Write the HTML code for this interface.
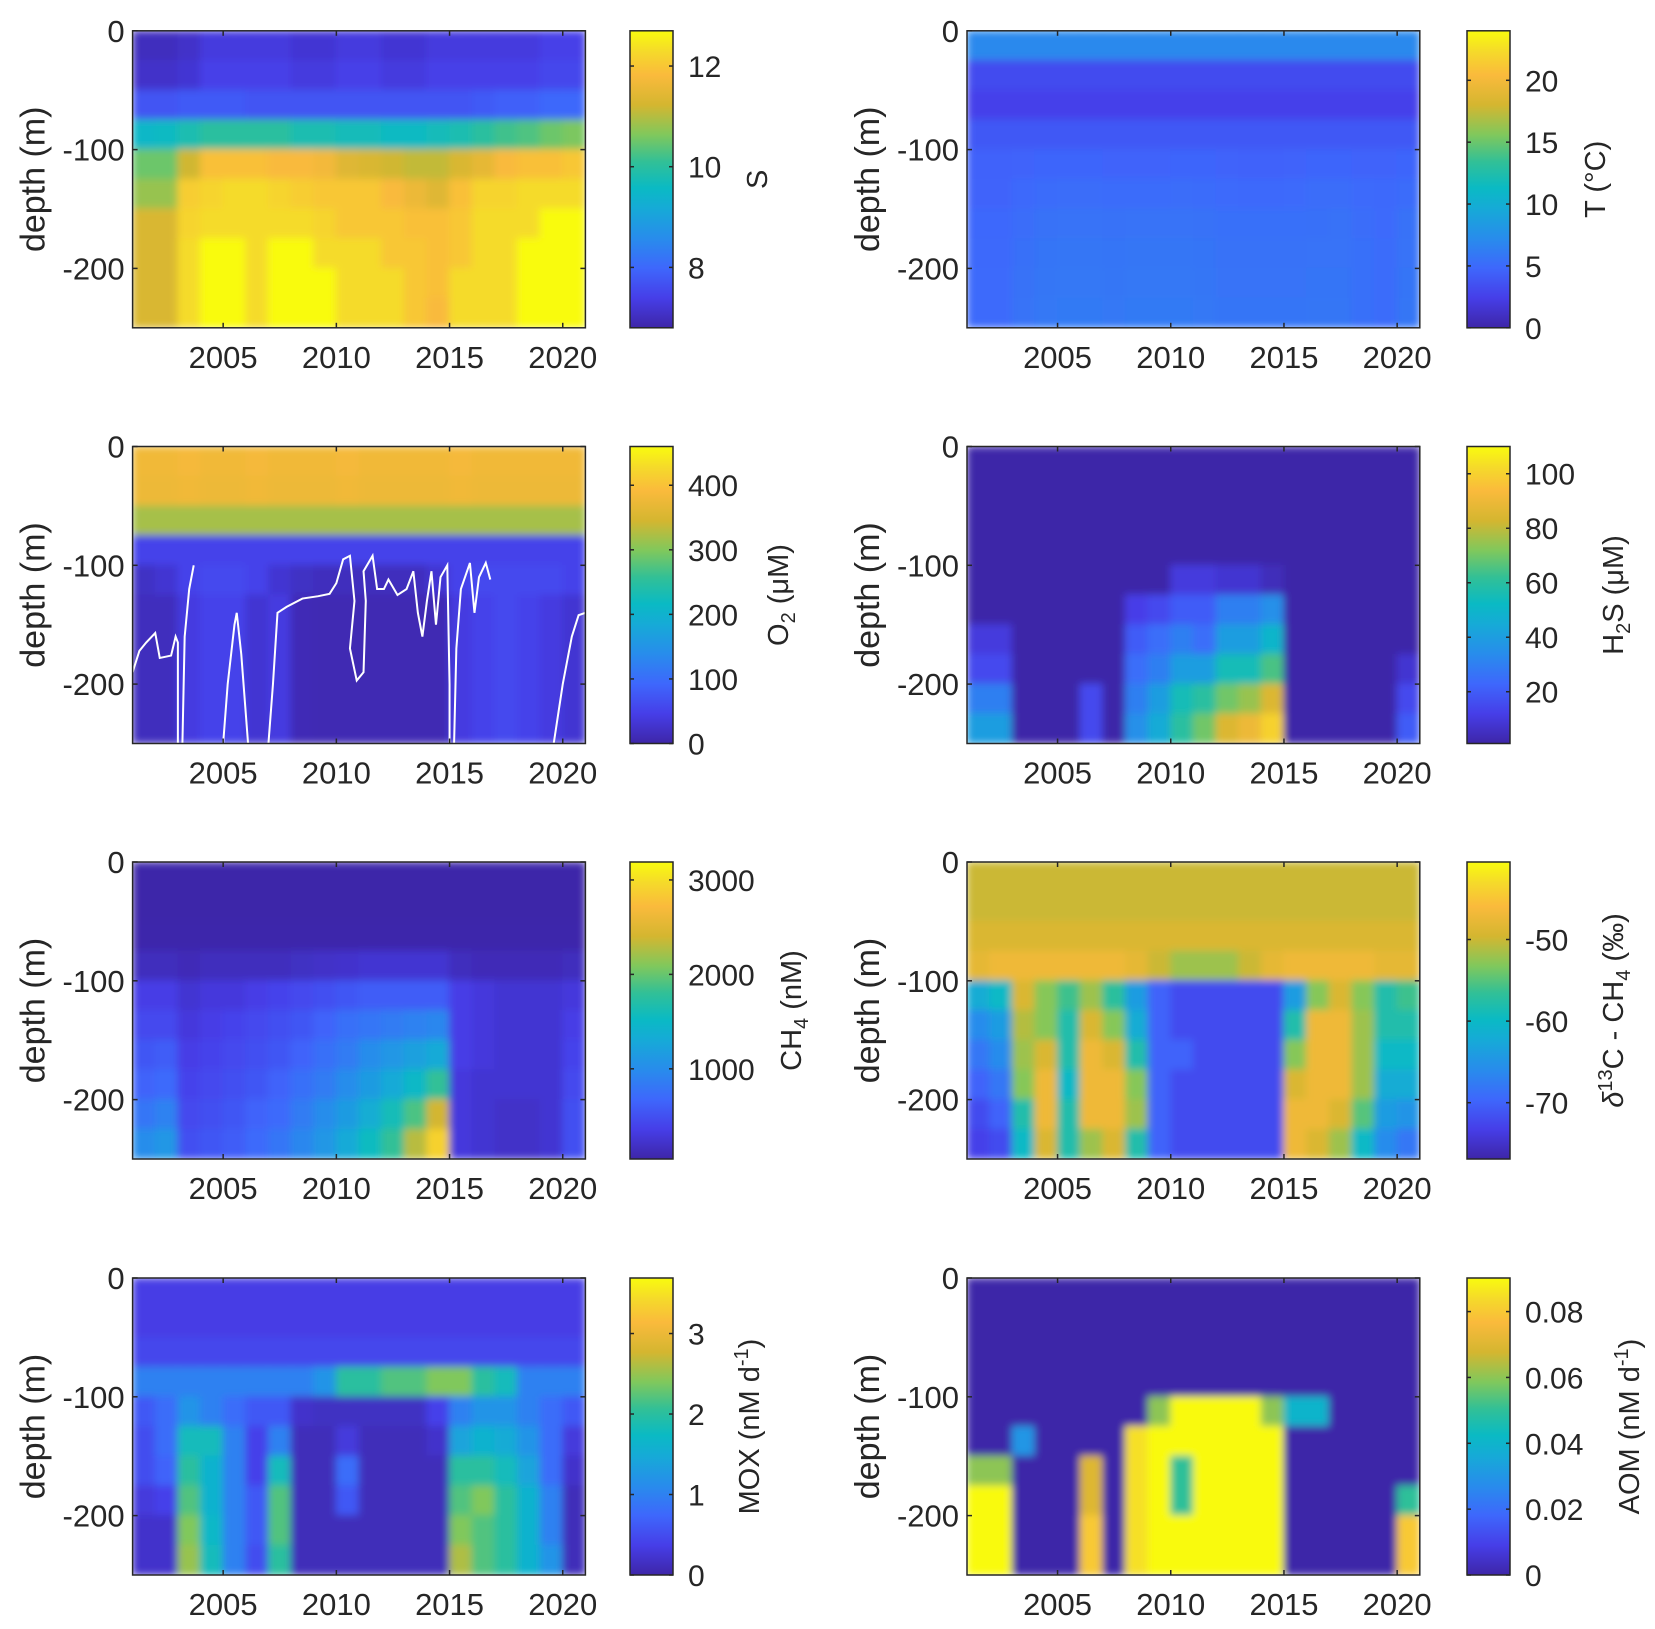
<!DOCTYPE html>
<html><head><meta charset="utf-8">
<style>
html,body{margin:0;padding:0;background:#fff;}
svg{display:block;font-family:"Liberation Sans",Arial,sans-serif;}
</style></head>
<body>
<svg id="fig" width="1655" height="1629" viewBox="0 0 1655 1629" xmlns="http://www.w3.org/2000/svg">
<defs>
<filter id="soft" x="-5%" y="-5%" width="110%" height="110%"><feGaussianBlur stdDeviation="4" edgeMode="duplicate"/></filter>
</defs>
</svg>
<script>
// ---- shared data ----
const yearStarts = [2001,2002,2003,2004,2005,2006,2007,2008,2009,2010,2011,2012,2013,2014,2015,2016,2017,2018,2019,2020];
const depthEdges = [0,-25,-50,-75,-100,-125,-150,-175,-200,-225,-250];
const xTicks = [2005,2010,2015,2020];
const yTicks = [0,-100,-200];

// ---- salinity S ----
const salinity = [
[7.0,7.0,7.1,7.3,7.3,7.3,7.3,7.2,7.2,7.3,7.3,7.2,7.2,7.3,7.3,7.3,7.3,7.3,7.4,7.4],
[7.1,7.1,7.2,7.4,7.4,7.4,7.4,7.3,7.3,7.4,7.4,7.3,7.3,7.4,7.4,7.4,7.4,7.4,7.5,7.5],
[7.7,7.7,7.8,7.8,7.8,7.7,7.7,7.7,7.7,7.7,7.7,7.7,7.7,7.7,7.7,7.8,7.9,7.9,8.0,8.0],
[9.5,9.6,9.8,10.0,10.0,10.0,10.0,9.8,9.8,9.7,9.7,9.6,9.6,9.7,9.8,10.0,10.2,10.3,10.5,10.6],
[10.5,10.5,11.2,11.9,11.9,11.9,11.8,11.8,11.7,11.4,11.3,11.2,11.1,11.1,11.3,11.5,11.8,11.9,11.9,12.0],
[10.8,10.8,12.1,12.2,12.3,12.3,12.2,12.1,12.0,12.0,12.0,11.8,11.6,11.4,11.9,12.2,12.2,12.3,12.3,12.3],
[11.3,11.3,12.2,12.3,12.3,12.3,12.3,12.3,12.2,12.0,12.0,12.0,11.9,11.9,12.0,12.3,12.3,12.3,12.7,12.7],
[11.3,11.3,12.3,12.7,12.7,12.3,12.7,12.7,12.3,12.3,12.3,12.0,12.0,11.9,12.0,12.3,12.3,12.7,12.7,12.7],
[11.3,11.3,12.3,12.7,12.7,12.3,12.7,12.7,12.7,12.3,12.3,12.3,12.0,11.9,12.3,12.3,12.3,12.7,12.7,12.7],
[11.3,11.3,12.3,12.7,12.7,12.3,12.7,12.7,12.7,12.3,12.3,12.3,12.0,11.8,12.3,12.3,12.3,12.7,12.7,12.7]];
const salinityTicks = [8,10,12];

// ---- temperature T ----
const temperature = [
[7,7,7,7,7,7,7,7,7,7,7,7,7,7,7,7,7,7,7,7],
[3.2,3.2,3.2,3.2,3.2,3.2,3.2,3.2,3.2,3.2,3.2,3.2,3.2,3.2,3.2,3.2,3.2,3.2,3.2,3.2],
[2.6,2.6,2.6,2.6,2.6,2.6,2.6,2.6,2.6,2.6,2.6,2.6,2.6,2.6,2.6,2.6,2.6,2.6,2.6,2.6],
[4.0,4.0,4.0,4.0,4.0,4.0,4.0,4.0,4.0,4.0,4.0,4.0,4.0,4.0,4.0,4.0,4.0,4.0,4.0,4.0],
[4.5,4.5,4.6,4.7,4.7,4.7,4.6,4.6,4.6,4.7,4.7,4.6,4.5,4.5,4.6,4.7,4.7,4.6,4.6,4.7],
[4.6,4.6,4.9,5.1,5.2,5.2,5.1,5.1,5.1,5.2,5.1,5.0,4.9,4.9,5.0,5.2,5.2,5.0,4.9,5.1],
[4.8,4.8,5.2,5.5,5.6,5.6,5.5,5.6,5.6,5.6,5.5,5.3,5.3,5.3,5.3,5.4,5.5,5.2,5.0,5.5],
[4.9,4.9,5.4,5.7,5.8,5.8,5.7,5.8,5.8,5.8,5.7,5.5,5.5,5.5,5.5,5.6,5.6,5.3,5.1,5.6],
[5.0,5.0,5.5,5.8,5.9,5.9,5.8,5.9,5.9,5.9,5.8,5.6,5.6,5.6,5.6,5.7,5.7,5.3,5.1,5.7],
[5.0,5.0,5.6,5.9,6.0,6.0,5.9,6.0,6.0,6.0,5.9,5.7,5.7,5.7,5.7,5.8,5.8,5.3,5.1,5.8]];
const temperatureTicks = [0,5,10,15,20];

// ---- oxygen O2 ----
const oxygen = [
[380,380,385,380,380,385,380,380,380,385,380,380,380,380,385,380,380,380,380,380],
[375,375,380,375,375,380,375,375,375,380,375,375,375,375,380,375,375,375,375,375],
[320,320,320,320,320,320,320,320,320,320,320,320,320,320,320,320,320,320,320,320],
[50,50,50,50,50,50,50,50,50,50,50,50,50,50,50,50,50,50,50,50],
[20,30,50,60,60,50,30,20,15,15,15,15,15,30,50,60,60,60,60,50],
[15,15,40,50,50,30,40,10,8,8,8,8,8,8,40,50,60,50,40,30],
[15,15,40,50,50,30,40,10,8,8,8,8,8,8,40,50,60,50,40,30],
[15,15,40,50,50,30,40,10,8,8,8,8,8,8,40,50,60,50,40,30],
[15,15,40,50,50,30,40,10,8,8,8,8,8,8,40,50,60,50,40,30],
[15,15,40,50,50,30,40,10,8,8,8,8,8,8,40,50,60,50,40,30]];
const oxygenTicks = [0,100,200,300,400];
const contourSegments = [
[[2001.0,-190],[2001.3,-172],[2001.6,-165],[2002.0,-157],[2002.2,-178],[2002.7,-176],[2002.9,-160],[2003.0,-165],[2003.0,-250]],
[[2003.2,-250],[2003.3,-160],[2003.5,-120],[2003.7,-100]],
[[2005.0,-250],[2005.2,-200],[2005.5,-150],[2005.6,-140],[2005.8,-175],[2006.1,-250]],
[[2007.0,-250],[2007.2,-200],[2007.4,-140],[2007.8,-135],[2008.5,-128],[2009.2,-126],[2009.7,-124],[2010.0,-115],[2010.3,-95],[2010.6,-92],[2010.8,-130],[2010.6,-170],[2010.9,-197],[2011.2,-190],[2011.3,-130],[2011.2,-105],[2011.6,-92],[2011.8,-120],[2012.1,-120],[2012.3,-112],[2012.7,-125],[2013.1,-120],[2013.4,-105],[2013.6,-140],[2013.8,-160],[2014.0,-130],[2014.2,-105],[2014.4,-150],[2014.6,-110],[2014.9,-100],[2015.0,-200],[2015.0,-250]],
[[2015.2,-250],[2015.3,-170],[2015.5,-120],[2015.9,-98],[2016.1,-140],[2016.3,-110],[2016.6,-98],[2016.8,-112]],
[[2019.6,-250],[2020.0,-200],[2020.4,-160],[2020.7,-142],[2021.0,-140]]];

// ---- H2S ----
const sulfide = [
[1,1,1,1,1,1,1,1,1,1,1,1,1,1,1,1,1,1,1,1],
[1,1,1,1,1,1,1,1,1,1,1,1,1,1,1,1,1,1,1,1],
[1,1,1,1,1,1,1,1,1,1,1,1,1,1,1,1,1,1,1,1],
[1,1,1,1,1,1,1,1,1,1,1,1,1,1,1,1,1,1,1,1],
[1,1,1,1,1,1,1,1,1,10,10,8,8,4,1,1,1,1,1,1],
[1,1,1,1,1,1,1,12,15,20,20,30,30,35,1,1,1,1,1,1],
[10,10,1,1,1,1,1,20,25,30,25,40,40,50,1,1,1,1,1,1],
[15,15,1,1,1,1,1,25,30,40,40,55,55,65,1,1,1,1,1,8],
[30,30,1,1,1,15,1,30,40,55,60,70,75,85,1,1,1,1,1,15],
[40,40,1,1,1,15,1,35,45,60,70,85,90,100,1,1,1,1,1,20]];
const sulfideTicks = [20,40,60,80,100];

// ---- CH4 ----
const methane = [
[50,50,50,50,50,50,50,50,50,50,50,50,50,50,50,50,50,50,50,50],
[50,50,50,50,50,50,50,50,50,50,50,50,50,50,50,50,50,50,50,50],
[60,60,60,60,60,60,60,60,60,60,60,60,60,60,60,60,60,60,60,60],
[150,150,120,150,150,150,150,180,200,220,250,250,250,250,150,120,120,120,120,150],
[350,350,250,300,300,350,400,450,500,550,600,600,600,600,350,300,250,250,250,300],
[450,450,300,350,400,450,500,550,650,750,800,850,900,950,350,300,250,250,250,350],
[550,600,350,400,450,500,550,650,750,850,1000,1100,1200,1300,350,300,250,250,250,400],
[650,700,400,450,500,550,650,750,850,1000,1150,1300,1500,1800,300,250,250,250,250,450],
[800,900,450,500,550,650,700,850,1000,1150,1350,1600,1900,2400,300,250,200,200,250,500],
[1000,1100,500,550,600,700,800,950,1100,1300,1550,1800,2300,2900,300,250,200,200,250,500]];
const methaneTicks = [1000,2000,3000];

// ---- d13C-CH4 ----
const d13c = [
[-50,-50,-50,-50,-50,-50,-50,-50,-50,-50,-50,-50,-50,-50,-50,-50,-50,-50,-50,-50],
[-50,-50,-50,-50,-50,-50,-50,-50,-50,-50,-50,-50,-50,-50,-50,-50,-50,-50,-50,-50],
[-49,-49,-49,-49,-49,-49,-49,-49,-49,-49,-49,-49,-49,-49,-49,-49,-49,-49,-49,-49],
[-48,-47,-47,-47,-47,-47,-47,-48,-50,-52,-52,-52,-50,-48,-47,-47,-47,-47,-48,-48],
[-62,-60,-49,-53,-56,-52,-57,-64,-70,-72,-72,-72,-72,-72,-64,-53,-49,-53,-58,-56],
[-66,-64,-51,-53,-58,-49,-53,-62,-70,-72,-72,-72,-72,-72,-58,-47,-47,-52,-58,-58],
[-68,-66,-52,-49,-58,-47,-49,-58,-70,-70,-72,-72,-72,-72,-53,-47,-47,-52,-60,-60],
[-70,-68,-53,-47,-60,-47,-47,-53,-70,-72,-72,-72,-72,-72,-49,-47,-47,-52,-62,-62],
[-72,-70,-58,-47,-58,-47,-47,-52,-70,-72,-72,-72,-72,-72,-47,-47,-49,-55,-64,-65],
[-73,-72,-60,-49,-58,-52,-49,-58,-70,-72,-72,-72,-72,-72,-47,-49,-52,-60,-66,-68]];
const d13cTicks = [-70,-60,-50];

// ---- MOX ----
const mox = [
[0.35,0.35,0.35,0.35,0.35,0.35,0.35,0.35,0.35,0.35,0.35,0.35,0.35,0.35,0.35,0.35,0.35,0.35,0.35,0.35],
[0.35,0.35,0.35,0.35,0.35,0.35,0.35,0.35,0.35,0.35,0.35,0.35,0.35,0.35,0.35,0.35,0.35,0.35,0.35,0.35],
[0.45,0.45,0.45,0.45,0.45,0.45,0.45,0.45,0.45,0.45,0.45,0.45,0.45,0.45,0.45,0.45,0.45,0.45,0.45,0.45],
[1,1,1,1,1,1,1,1,1.2,2,2,2.2,2.2,2.4,2.4,2,1.8,1,1,1],
[0.6,0.8,1.2,1.0,0.8,0.6,0.6,0.2,0.15,0.15,0.15,0.15,0.15,0.4,1.0,1.2,1.2,1.0,0.8,0.6],
[0.5,0.8,1.8,1.8,1.0,0.4,1.0,0.1,0.1,0.3,0.1,0.1,0.1,0.2,1.4,1.6,1.5,1.2,0.8,0.3],
[0.5,0.7,2.0,1.6,1.0,0.4,1.8,0.1,0.1,0.8,0.1,0.1,0.1,0.1,2.0,2.0,1.8,1.4,0.8,0.2],
[0.3,0.4,2.2,1.6,1.0,0.6,2.2,0.1,0.1,0.6,0.1,0.1,0.1,0.1,2.2,2.4,2.0,1.6,1.0,0.1],
[0.2,0.2,2.4,1.7,1.0,0.6,2.2,0.1,0.1,0.1,0.1,0.1,0.1,0.1,2.4,2.2,2.0,1.6,1.0,0.1],
[0.2,0.2,2.5,1.8,1.0,0.5,2.0,0.1,0.1,0.1,0.1,0.1,0.1,0.1,2.6,2.2,2.0,1.6,1.2,0.1]];
const moxTicks = [0,1,2,3];

// ---- AOM ----
const aom = [
[0,0,0,0,0,0,0,0,0,0,0,0,0,0,0,0,0,0,0,0],
[0,0,0,0,0,0,0,0,0,0,0,0,0,0,0,0,0,0,0,0],
[0,0,0,0,0,0,0,0,0,0,0,0,0,0,0,0,0,0,0,0],
[0,0,0,0,0,0,0,0,0,0,0,0,0,0,0,0,0,0,0,0],
[0,0,0,0,0,0,0,0,0.06,0.09,0.09,0.09,0.09,0.06,0.04,0.04,0,0,0,0],
[0,0,0.03,0,0,0,0,0.085,0.09,0.09,0.09,0.09,0.09,0.09,0,0,0,0,0,0],
[0.06,0.06,0,0,0,0.07,0,0.085,0.09,0.05,0.09,0.09,0.09,0.09,0,0,0,0,0,0],
[0.09,0.09,0,0,0,0.07,0,0.085,0.09,0.05,0.09,0.09,0.09,0.09,0,0,0,0,0,0.05],
[0.09,0.09,0,0,0,0.08,0,0.085,0.09,0.09,0.09,0.09,0.09,0.09,0,0,0,0,0,0.08],
[0.09,0.09,0,0,0,0.08,0,0.085,0.09,0.09,0.09,0.09,0.09,0.09,0,0,0,0,0,0.08]];
const aomTicks = [0,0.02,0.04,0.06,0.08];

// ---- rendering ----
const NS = 'http://www.w3.org/2000/svg';
const svg = document.getElementById('fig');
const stops = [[0,62,38,168],[0.1,70,62,232],[0.2,62,103,252],[0.3,40,140,236],[0.4,22,170,215],[0.47,10,186,196],[0.56,50,192,150],[0.65,128,200,92],[0.75,212,182,48],[0.85,250,186,60],[0.93,245,218,42],[1,249,251,14]];
function parula(t){
  t = Math.max(0, Math.min(1, t));
  for (let i = 1; i < stops.length; i++) {
    if (t <= stops[i][0]) {
      const a = stops[i-1], b = stops[i], f = (t - a[0]) / (b[0] - a[0]);
      return 'rgb(' + [1,2,3].map(k => Math.round(a[k] + f * (b[k] - a[k]))).join(',') + ')';
    }
  }
  return 'rgb(249,251,14)';
}
function mk(tag, attrs, parent){
  const e = document.createElementNS(NS, tag);
  for (const k in attrs) e.setAttribute(k, attrs[k]);
  (parent || svg).appendChild(e);
  return e;
}
const colX = [{ax:132.6, cb:630, tl:688}, {ax:967, cb:1467, tl:1525}];
const rowY = [30.8, 446.5, 862, 1278];
const AW = 452.8, AH = 297, CBW = 43;

const panels = [
 {key:'salinity', data:salinity, vmin:6.8, vmax:12.7, ticks:salinityTicks, col:0, row:0, lx:756, label:[['S']]},
 {key:'temperature', data:temperature, vmin:0, vmax:24, ticks:temperatureTicks, col:1, row:0, lx:1594, label:[['T (°C)']]},
 {key:'oxygen', data:oxygen, vmin:0, vmax:460, ticks:oxygenTicks, col:0, row:1, lx:777, label:[['O'],['2','sub'],[' (μM)']]},
 {key:'sulfide', data:sulfide, vmin:1, vmax:110, ticks:sulfideTicks, col:1, row:1, lx:1612, label:[['H'],['2','sub'],['S (μM)']]},
 {key:'methane', data:methane, vmin:45, vmax:3190, ticks:methaneTicks, col:0, row:2, lx:790, label:[['CH'],['4','sub'],[' (nM)']]},
 {key:'d13c', data:d13c, vmin:-76.9, vmax:-40.5, ticks:d13cTicks, col:1, row:2, lx:1612, label:[['δ','it'],['13','sup'],['C - CH'],['4','sub'],[' (‰)']]},
 {key:'mox', data:mox, vmin:0, vmax:3.69, ticks:moxTicks, col:0, row:3, lx:748, label:[['MOX (nM d'],['-1','sup'],[')']]},
 {key:'aom', data:aom, vmin:0, vmax:0.0902, ticks:aomTicks, col:1, row:3, lx:1628, label:[['AOM (nM d'],['-1','sup'],[')']]}
];

panels.forEach(p => {
  const ax = colX[p.col].ax, top = rowY[p.row];
  const xs = y => ax + (y - 2001) / 20 * AW;
  const ys = d => top + (-d) / 250 * AH;
  const cv = v => parula((v - p.vmin) / (p.vmax - p.vmin));
  const g = mk('g', {});
  
  
  const clipId = 'clip-' + p.key;
  const cp = mk('clipPath', {id: clipId}, g);
  mk('rect', {x: ax, y: top, width: AW, height: AH}, cp);
  const hm = mk('g', {'clip-path': 'url(#' + clipId + ')'}, g);
  
  
  const inner = mk('g', {filter: 'url(#soft)'}, hm);
  p.data.forEach((row, ri) => {
    row.forEach((v, ci) => {
      const x0 = xs(yearStarts[ci]), x1 = xs(yearStarts[ci] + 1);
      const y0 = ys(depthEdges[ri]), y1 = ys(depthEdges[ri+1]);
      const c = mk('rect', {x: x0 - 0.5, y: y0 - 0.5, width: x1 - x0 + 1, height: y1 - y0 + 1, fill: cv(v)}, inner);
      
      
    });
  });
  if (p.key === 'oxygen') {
    contourSegments.forEach(seg => {
      const pl = mk('polyline', {points: seg.map(q => xs(q[0]) + ',' + ys(q[1])).join(' '), fill: 'none', stroke: '#fff', 'stroke-width': 2}, hm);
      
      
    });
  }
  const box = mk('rect', {x: ax, y: top, width: AW, height: AH, fill: 'none', stroke: '#262626', 'stroke-width': 1.5}, g);
  
  
  xTicks.forEach(t => {
    const x = xs(t);
    mk('line', {x1: x, y1: top + AH, x2: x, y2: top + AH - 5, stroke: '#262626', 'stroke-width': 1.5}, g);
    mk('line', {x1: x, y1: top, x2: x, y2: top + 5, stroke: '#262626', 'stroke-width': 1.5}, g);
    const tx = mk('text', {x: x, y: top + AH + 40, 'font-size': 31, 'text-anchor': 'middle', fill: '#262626'}, g);
    tx.textContent = t;
    
    
  });
  yTicks.forEach(t => {
    const y = ys(t);
    mk('line', {x1: ax, y1: y, x2: ax + 5, y2: y, stroke: '#262626', 'stroke-width': 1.5}, g);
    mk('line', {x1: ax + AW, y1: y, x2: ax + AW - 5, y2: y, stroke: '#262626', 'stroke-width': 1.5}, g);
    const tx = mk('text', {x: ax - 8, y: y + 11, 'font-size': 31, 'text-anchor': 'end', fill: '#262626'}, g);
    tx.textContent = t === 0 ? '0' : '-' + Math.abs(t);
    
    
  });
  const yl = mk('text', {x: 0, y: 0, 'font-size': 34, 'text-anchor': 'middle', fill: '#262626', transform: 'translate(' + (ax - 88) + ',' + (top + AH / 2) + ') rotate(-90)'}, g);
  yl.textContent = 'depth (m)';
  
  
  const cbx = colX[p.col].cb;
  const gid = 'grad-' + p.key;
  const lg = mk('linearGradient', {id: gid, x1: 0, y1: 1, x2: 0, y2: 0}, g);
  stops.forEach(s => mk('stop', {offset: s[0], 'stop-color': 'rgb(' + s[1] + ',' + s[2] + ',' + s[3] + ')'}, lg));
  const cb = mk('rect', {x: cbx, y: top, width: CBW, height: AH, fill: 'url(#' + gid + ')', stroke: '#262626', 'stroke-width': 1.5}, g);
  
  
  p.ticks.forEach(t => {
    const y = top + AH - (t - p.vmin) / (p.vmax - p.vmin) * AH;
    mk('line', {x1: cbx + CBW, y1: y, x2: cbx + CBW - 4, y2: y, stroke: '#262626', 'stroke-width': 1.5}, g);
    mk('line', {x1: cbx, y1: y, x2: cbx + 4, y2: y, stroke: '#262626', 'stroke-width': 1.5}, g);
    const tx = mk('text', {x: colX[p.col].tl, y: y + 11, 'font-size': 30, fill: '#262626'}, g);
    tx.textContent = String(t);
    
    
  });
  const cl = mk('text', {x: 0, y: 0, 'font-size': 29, 'text-anchor': 'middle', fill: '#262626', transform: 'translate(' + (p.lx + 11) + ',' + (top + AH / 2) + ') rotate(-90)'}, g);
  
  
  let shift = 0;
  p.label.forEach(part => {
    const ts = mk('tspan', {}, cl);
    ts.textContent = part[0];
    if (part[1] === 'sub') { ts.setAttribute('font-size', 20); ts.setAttribute('dy', 7 - shift); shift = 7; }
    else if (part[1] === 'sup') { ts.setAttribute('font-size', 20); ts.setAttribute('dy', -11 - shift); shift = -11; }
    else { if (part[1] === 'it') ts.setAttribute('font-style', 'italic'); if (shift) { ts.setAttribute('dy', -shift); shift = 0; } }
  });
});
</script>
</body></html>
